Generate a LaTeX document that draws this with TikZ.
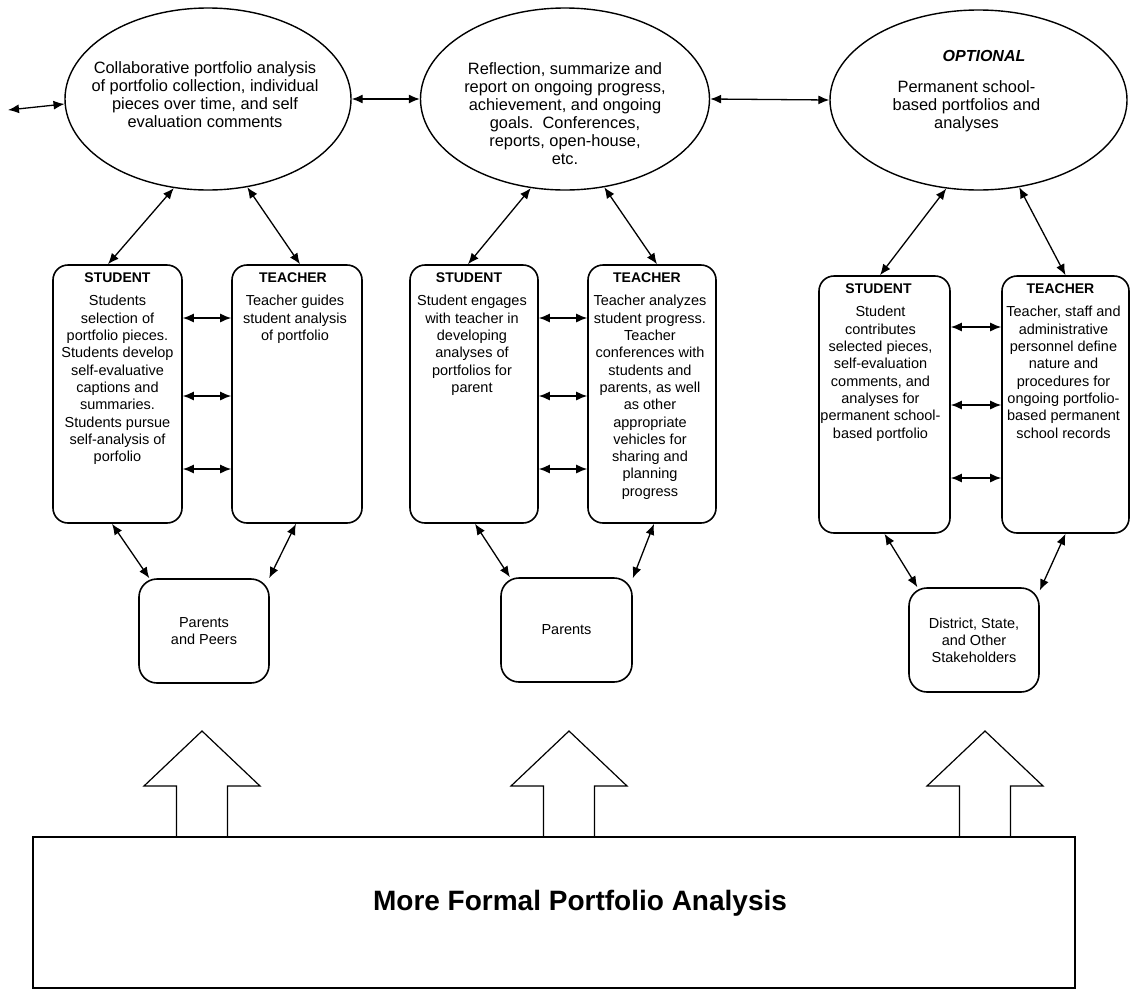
\documentclass[tikz,border=0pt]{standalone}
\usepackage{fontspec}
\setmainfont{Liberation Sans}
\usetikzlibrary{shapes.geometric,arrows.meta,calc}
\tikzset{
  oval/.style={draw, ellipse, line width=1.4pt, inner sep=0pt},
  rbox/.style={draw, rounded corners=15pt, line width=1.6pt, inner sep=0pt},
  sbox/.style={draw, rounded corners=18pt, line width=1.6pt, align=center, inner sep=0pt,
    font=\fontsize{14.5}{17}\selectfont},
  hdr/.style={font=\fontsize{14}{16}\selectfont\bfseries, inner sep=0pt},
  body/.style={align=center, anchor=north, inner sep=0pt, font=\fontsize{14.5}{17.3}\selectfont},
  etext/.style={align=center, anchor=north, inner sep=0pt, font=\fontsize{16.4}{18}\selectfont},
  link/.style={line width=1.3pt, <->, >={Latex[length=11pt,width=9pt]}},
  bigarrow/.style={line width=1.2pt, line join=miter},
}
\begin{document}
\begin{tikzpicture}[x=1pt,y=-1pt]
\useasboundingbox (0,0) rectangle (1137,991);

% ellipses
\node[oval, minimum width=286pt, minimum height=182pt] (e1) at (208,99) {};
\node[oval, minimum width=289pt, minimum height=182pt] (e2) at (565,99) {};
\node[oval, minimum width=297pt, minimum height=180pt] (e3) at (978.5,100) {};

\node[etext] (e1t) at ($(e1.center)+(-3,-38)$) {Collaborative portfolio analysis\\of portfolio collection, individual\\pieces over time, and self\\evaluation comments};
\node[etext] (e2t) at ($(e2.center)+(0,-37)$) {Reflection, summarize and\\report on ongoing progress,\\achievement, and ongoing\\goals.\ \ Conferences,\\reports, open-house,\\etc.};
\node[font=\fontsize{16}{18}\selectfont\bfseries\itshape, inner sep=0pt] (e3o) at ($(e3.center)+(5.5,-44)$) {OPTIONAL};
\node[etext] (e3t) at ($(e3.center)+(-12,-20)$) {Permanent school-\\based portfolios and\\analyses};

% boxes
\node[rbox, minimum width=129pt, minimum height=258pt] (s1) at (117.5,394) {};
\node[rbox, minimum width=130pt, minimum height=258pt] (t1) at (297,394) {};
\node[rbox, minimum width=128pt, minimum height=258pt] (s2) at (474,394) {};
\node[rbox, minimum width=128pt, minimum height=258pt] (t2) at (652,394) {};
\node[rbox, minimum width=131pt, minimum height=257pt] (s3) at (884.5,404.5) {};
\node[rbox, minimum width=127pt, minimum height=257pt] (t3) at (1065.5,404.5) {};

\node[hdr] (s1h) at ($(s1.north)+(0,13)$) {STUDENT};
\node[hdr] (t1h) at ($(t1.north)+(-4,13)$) {TEACHER};
\node[hdr] (s2h) at ($(s2.north)+(-5,13)$) {STUDENT};
\node[hdr] (t2h) at ($(t2.north)+(-5,13)$) {TEACHER};
\node[hdr] (s3h) at ($(s3.north)+(-6,13)$) {STUDENT};
\node[hdr] (t3h) at ($(t3.north)+(-5,13)$) {TEACHER};

\node[body] (s1b) at ($(s1.north)+(0,31)$) {Students\\selection of\\portfolio pieces.\\Students develop\\self-evaluative\\captions and\\summaries.\\Students pursue\\self-analysis of\\porfolio};
\node[body] (t1b) at ($(t1.north)+(-2,31)$) {Teacher guides\\student analysis\\of portfolio};
\node[body] (s2b) at ($(s2.north)+(-2,31)$) {Student engages\\with teacher in\\developing\\analyses of\\portfolios for\\parent};
\node[body] (t2b) at ($(t2.north)+(-2,31)$) {Teacher analyzes\\student progress.\\Teacher\\conferences with\\students and\\parents, as well\\as other\\appropriate\\vehicles for\\sharing and\\planning\\progress};
\node[body] (s3b) at ($(s3.north)+(-4,31)$) {Student\\contributes\\selected pieces,\\self-evaluation\\comments, and\\analyses for\\permanent school-\\based portfolio};
\node[body] (t3b) at ($(t3.north)+(-2,31)$) {Teacher, staff and\\administrative\\personnel define\\nature and\\procedures for\\ongoing portfolio-\\based permanent\\school records};

% lower boxes
\node[sbox, minimum width=130pt, minimum height=104pt] (pp) at (204,631) {Parents\\and Peers};
\node[sbox, minimum width=131pt, minimum height=104pt] (par) at (566.5,630) {Parents};
\node[sbox, minimum width=130pt, minimum height=104pt] (dist) at (974,640) {District, State,\\and Other\\Stakeholders};

% bottom box
\node[draw, line width=1.3pt, minimum width=1042pt, minimum height=151pt, inner sep=0pt] (fpa) at (554,912.5) {};
\node[font=\fontsize{28}{30}\selectfont\bfseries, inner sep=0pt] (fpat) at (580,903) {More Formal Portfolio Analysis};

% big arrows
\foreach \cx in {202,569,985}{
  \draw[bigarrow] (\cx-25.5,837) -- (\cx-25.5,786) -- (\cx-58,786) -- (\cx,731)
     -- (\cx+58,786) -- (\cx+25.5,786) -- (\cx+25.5,837);
}

% connectors
\coordinate (lf) at (8,110);
\draw[link] (lf) -- (e1.-178);
\draw[link] (e1.east) -- (e2.west);
\draw[link] (e2.east) -- (e3.west);

\draw[link] (e1.-111.5) -- ($(s1.north)+(-9.5,0)$);
\draw[link] (e1.-66.3) -- ($(t1.north)+(3,0)$);
\draw[link] (e2.-111) -- ($(s2.north)+(-6,0)$);
\draw[link] (e2.-66.7) -- ($(t2.north)+(5,0)$);
\draw[link] (e3.-110) -- ($(s3.north)+(-4.5,0)$);
\draw[link] (e3.-65) -- (t3.north);

\foreach \dy in {-76,2,75}{
  \draw[link] ($(s1.east)+(0,\dy)$) -- ($(t1.west)+(0,\dy)$);
  \draw[link] ($(s2.east)+(0,\dy)$) -- ($(t2.west)+(0,\dy)$);
}
\foreach \dy in {-77.5,0.5,73.5}{
  \draw[link] ($(s3.east)+(0,\dy)$) -- ($(t3.west)+(0,\dy)$);
}

\draw[link] ($(s1.south)+(-5.5,0)$) -- (pp.136.6);
\draw[link] ($(t1.south)+(-1,0)$) -- (pp.39);
\draw[link] ($(s2.south)+(1,0)$) -- (par.137.5);
\draw[link] ($(t2.south)+(2,0)$) -- (par.38.7);
\draw[link] (s3.south) -- (dist.137.2);
\draw[link] (t3.south) -- (dist.37.3);
\end{tikzpicture}
\end{document}
